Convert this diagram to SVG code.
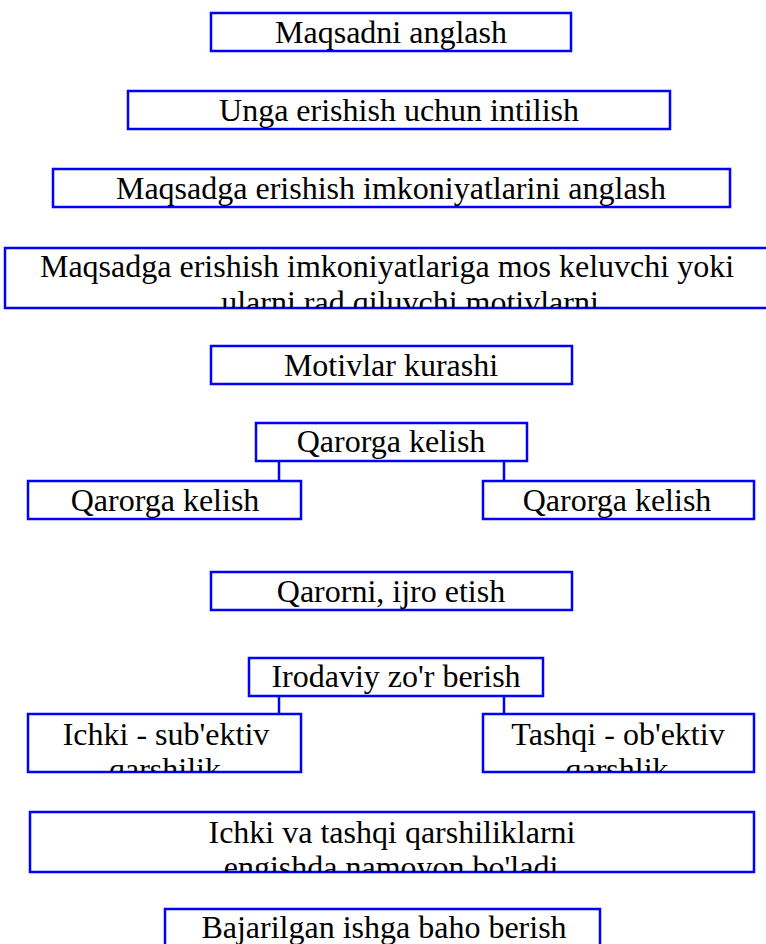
<svg xmlns="http://www.w3.org/2000/svg" width="766" height="944" viewBox="0 0 766 944">
<style>
.b{fill:#fff;stroke:#0000ff;stroke-width:2.5}
.t{font-family:"Liberation Serif","Times New Roman",serif;font-size:32px;fill:#000;text-anchor:middle}
.c{stroke:#0000ff;stroke-width:2.5;fill:none}
</style>
<defs>
<clipPath id="c4"><rect x="5" y="248" width="770" height="60"/></clipPath>
<clipPath id="c8"><rect x="28" y="714" width="273" height="58"/></clipPath>
<clipPath id="c9"><rect x="483" y="714" width="271" height="58"/></clipPath>
<clipPath id="c10"><rect x="30" y="812" width="724" height="60"/></clipPath>
</defs>
<rect width="766" height="944" fill="#fff"/>
<g id="connectors">
<line class="c" x1="279" y1="461" x2="279" y2="481"/>
<line class="c" x1="504" y1="461" x2="504" y2="481"/>
<line class="c" x1="279" y1="696" x2="279" y2="714"/>
<line class="c" x1="504" y1="696" x2="504" y2="714"/>
</g>
<g id="n1"><rect class="b" x="211" y="13" width="360" height="38"/><text class="t" x="391" y="43">Maqsadni anglash</text></g>
<g id="n2"><rect class="b" x="128" y="91" width="542" height="38"/><text class="t" x="399" y="121">Unga erishish uchun intilish</text></g>
<g id="n3"><rect class="b" x="53" y="169" width="677" height="38"/><text class="t" x="391" y="199">Maqsadga erishish imkoniyatlarini anglash</text></g>
<g id="n4"><rect class="b" x="5" y="248" width="775" height="60"/><g clip-path="url(#c4)"><text class="t" x="387" y="277">Maqsadga erishish imkoniyatlariga mos keluvchi yoki</text><text class="t" x="410" y="313">ularni rad qiluvchi motivlarni</text></g></g>
<g id="n5"><rect class="b" x="211" y="346" width="361" height="38"/><text class="t" x="391" y="376">Motivlar kurashi</text></g>
<g id="n6"><rect class="b" x="256" y="423" width="271" height="38"/><text class="t" x="391" y="452">Qarorga kelish</text></g>
<g id="n6a"><rect class="b" x="28" y="481" width="273" height="38"/><text class="t" x="165" y="511">Qarorga kelish</text></g>
<g id="n6b"><rect class="b" x="483" y="481" width="271" height="38"/><text class="t" x="617" y="511">Qarorga kelish</text></g>
<g id="n7"><rect class="b" x="211" y="572" width="361" height="38"/><text class="t" x="391" y="602">Qarorni, ijro etish</text></g>
<g id="n8"><rect class="b" x="249" y="658" width="294" height="38"/><text class="t" x="396" y="687">Irodaviy zo'r berish</text></g>
<g id="n8a"><rect class="b" x="28" y="714" width="273" height="58"/><g clip-path="url(#c8)"><text class="t" x="166" y="745">Ichki - sub'ektiv</text><text class="t" x="165" y="780">qarshilik</text></g></g>
<g id="n8b"><rect class="b" x="483" y="714" width="271" height="58"/><g clip-path="url(#c9)"><text class="t" x="618" y="745">Tashqi - ob'ektiv</text><text class="t" x="617" y="780">qarshlik</text></g></g>
<g id="n9"><rect class="b" x="30" y="812" width="724" height="60"/><g clip-path="url(#c10)"><text class="t" x="392" y="843">Ichki va tashqi qarshiliklarni</text><text class="t" x="391" y="878">engishda namoyon bo'ladi</text></g></g>
<g id="n10"><rect class="b" x="165" y="909" width="435" height="50"/><text class="t" x="384" y="938">Bajarilgan ishga baho berish</text></g>
</svg>
